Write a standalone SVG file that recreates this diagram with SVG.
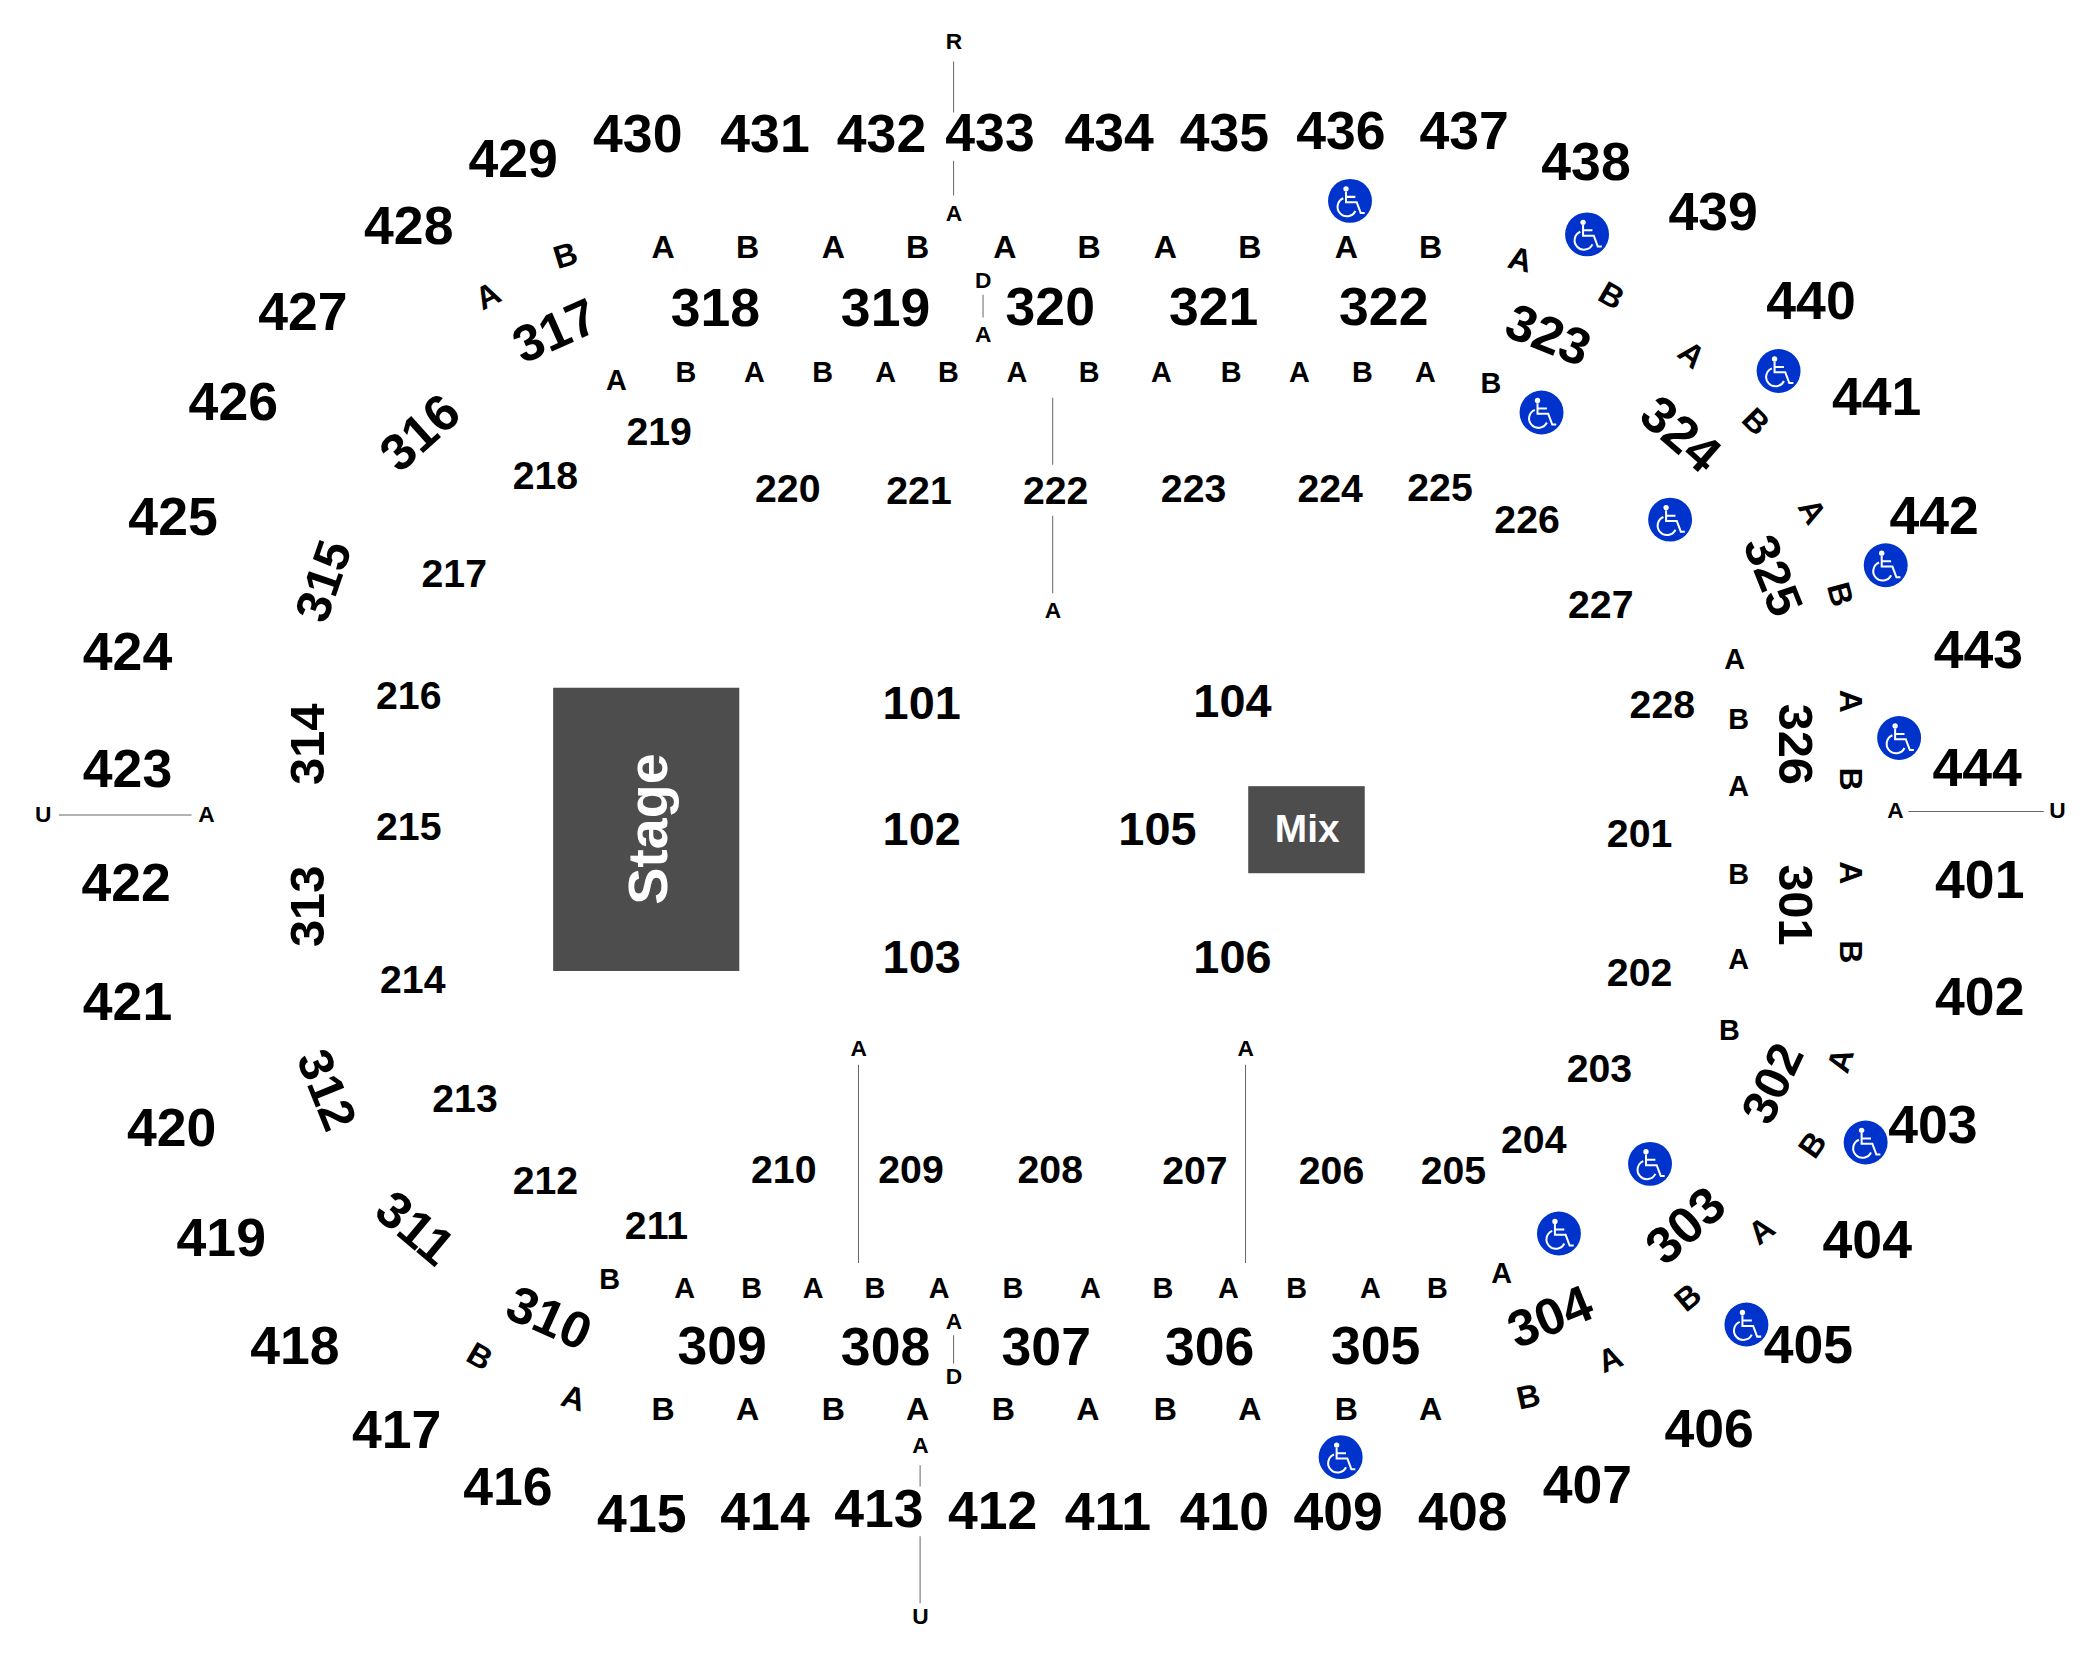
<svg xmlns="http://www.w3.org/2000/svg" xmlns:xlink="http://www.w3.org/1999/xlink" width="2100" height="1660" viewBox="0 0 2100 1660">
<style>
text{font-family:"Liberation Sans",Arial,sans-serif;font-weight:700;text-anchor:middle;dominant-baseline:central;fill:#000}
.u{font-size:40px}.n{font-size:36.5px}.o{font-size:38.5px}.m{font-size:29.3px}.f{font-size:35px}.r{font-size:24px}.q{font-size:21.5px}.t{font-size:17px}
.w{fill:#fff}
line{stroke:#666;stroke-width:.75}
</style>
<defs><g id="wc"><circle r="16.4" fill="#0033cc"/><circle cx="-3" cy="-9" r="2" fill="#fff"/><path d="M-3-7V1H5L8 9H11M-3-3H4M-5-2A7 7 0 1 0 4 7.500" fill="none" stroke="#fff" stroke-width="1.500"/></g></defs>
<rect width="2100" height="1660" fill="#fff"/>
<g transform="scale(1.3393)">
<rect x="413" y="513.500" width="139" height="211.500" fill="#4d4d4d"/>
<rect x="932" y="587" width="87" height="65" fill="#4d4d4d"/>
<text class="w" style="font-size:41.500px" x="484" y="619" transform="rotate(-90 484 619)">Stage</text>
<text class="w" style="font-size:29px" x="976" y="618.500">Mix</text>
<g id="connectors">
<line x1="712" y1="46" x2="712" y2="84"/><line x1="712" y1="120" x2="712" y2="146"/>
<line x1="734" y1="220" x2="734" y2="237"/>
<line x1="786" y1="297" x2="786" y2="347"/><line x1="786" y1="385" x2="786" y2="443"/>
<line x1="641" y1="795" x2="641" y2="943"/><line x1="930" y1="795" x2="930" y2="943"/>
<line x1="712" y1="997" x2="712" y2="1018"/>
<line x1="687" y1="1094" x2="687" y2="1110"/><line x1="687" y1="1147" x2="687" y2="1197"/>
<line x1="44" y1="608.500" x2="143" y2="608.500"/><line x1="1425" y1="606" x2="1526" y2="606"/>
</g>
<g transform="translate(.2 -.3)">
<g id="level-400">
<text class="u" x="476" y="100">430</text><text class="u" x="571" y="100">431</text><text class="u" x="658" y="100">432</text><text class="u" x="739" y="99">433</text><text class="u" x="828" y="99">434</text><text class="u" x="914" y="99">435</text><text class="u" x="1001" y="98">436</text><text class="u" x="1093" y="98">437</text><text class="u" x="1184" y="121">438</text><text class="u" x="1279" y="158">439</text><text class="u" x="1352" y="225">440</text><text class="u" x="1401" y="296">441</text><text class="u" x="1444" y="385">442</text><text class="u" x="1477" y="485">443</text><text class="u" x="1476" y="573">444</text><text class="u" x="1478" y="657">401</text><text class="u" x="1478" y="744">402</text><text class="u" x="1443" y="840">403</text><text class="u" x="1394" y="926">404</text><text class="u" x="1350" y="1004">405</text><text class="u" x="1276" y="1067">406</text><text class="u" x="1185" y="1109">407</text><text class="u" x="1092" y="1129">408</text><text class="u" x="999" y="1129">409</text><text class="u" x="914" y="1129">410</text><text class="u" x="827" y="1129">411</text><text class="u" x="741" y="1128">412</text><text class="u" x="656" y="1127">413</text><text class="u" x="571" y="1129">414</text><text class="u" x="479" y="1130">415</text><text class="u" x="379" y="1110">416</text><text class="u" x="296" y="1068">417</text><text class="u" x="220" y="1005">418</text><text class="u" x="165" y="924">419</text><text class="u" x="128" y="842">420</text><text class="u" x="95" y="748">421</text><text class="u" x="94" y="659">422</text><text class="u" x="95" y="574">423</text><text class="u" x="95" y="487">424</text><text class="u" x="129" y="386">425</text><text class="u" x="174" y="300">426</text><text class="u" x="226" y="233">427</text><text class="u" x="305" y="169">428</text><text class="u" x="383" y="119">429</text>
</g>
<g id="level-300">
<text class="o" x="414" y="247" transform="rotate(-24 414 247)">317</text><text class="u" x="534" y="230">318</text><text class="u" x="661" y="230">319</text><text class="u" x="784" y="229">320</text><text class="u" x="906" y="229">321</text><text class="u" x="1033" y="229">322</text><text class="o" x="1156" y="250" transform="rotate(22 1156 250)">323</text><text class="o" x="1255" y="324" transform="rotate(41 1255 324)">324</text><text class="n" x="1324" y="430" transform="rotate(68 1324 430)">325</text><text class="n" x="1341" y="556" transform="rotate(90 1341 556)">326</text><text class="n" x="1341" y="676" transform="rotate(90 1341 676)">301</text><text class="n" x="1323" y="809" transform="rotate(-65 1323 809)">302</text><text class="o" x="1258" y="915" transform="rotate(-42 1258 915)">303</text><text class="o" x="1157" y="983" transform="rotate(-22 1157 983)">304</text><text class="u" x="1027" y="1005">305</text><text class="u" x="903" y="1006">306</text><text class="u" x="781" y="1006">307</text><text class="u" x="661" y="1006">308</text><text class="u" x="539" y="1005">309</text><text class="o" x="410" y="984" transform="rotate(24 410 984)">310</text><text class="o" x="310" y="917" transform="rotate(40 310 917)">311</text><text class="n" x="244" y="814" transform="rotate(68 244 814)">312</text><text class="n" x="229" y="677" transform="rotate(-90 229 677)">313</text><text class="n" x="229" y="556" transform="rotate(-90 229 556)">314</text><text class="n" x="241" y="434" transform="rotate(-71 241 434)">315</text><text class="o" x="313" y="323" transform="rotate(-42 313 323)">316</text>
</g>
<g id="level-200">
<text class="m" x="1224" y="622">201</text><text class="m" x="1224" y="726">202</text><text class="m" x="1194" y="798">203</text><text class="m" x="1145" y="851">204</text><text class="m" x="1085" y="874">205</text><text class="m" x="994" y="874">206</text><text class="m" x="892" y="874">207</text><text class="m" x="784" y="873">208</text><text class="m" x="680" y="873">209</text><text class="m" x="585" y="873">210</text><text class="m" x="490" y="915">211</text><text class="m" x="407" y="881">212</text><text class="m" x="347" y="820">213</text><text class="m" x="308" y="731">214</text><text class="m" x="305" y="617">215</text><text class="m" x="305" y="519">216</text><text class="m" x="339" y="428">217</text><text class="m" x="407" y="355">218</text><text class="m" x="492" y="322">219</text><text class="m" x="588" y="365">220</text><text class="m" x="686" y="366">221</text><text class="m" x="788" y="366">222</text><text class="m" x="891" y="365">223</text><text class="m" x="993" y="365">224</text><text class="m" x="1075" y="364">225</text><text class="m" x="1140" y="388">226</text><text class="m" x="1195" y="451">227</text><text class="m" x="1241" y="526">228</text>
</g>
<g id="level-100">
<text class="f" x="688" y="525">101</text><text class="f" x="688" y="619">102</text><text class="f" x="688" y="715">103</text><text class="f" x="920" y="524">104</text><text class="f" x="864" y="619">105</text><text class="f" x="920" y="715">106</text>
</g>
<g id="rows">
<text class="r" x="364" y="221" transform="rotate(-27 364 221)">A</text><text class="r" x="422" y="191" transform="rotate(-17 422 191)">B</text><text class="r" x="495" y="185">A</text><text class="r" x="558" y="185">B</text><text class="r" x="622" y="185">A</text><text class="r" x="685" y="185">B</text><text class="r" x="750" y="185">A</text><text class="r" x="813" y="185">B</text><text class="r" x="870" y="185">A</text><text class="r" x="933" y="185">B</text><text class="r" x="1005" y="185">A</text><text class="r" x="1068" y="185">B</text><text class="r" x="1135" y="194" transform="rotate(15 1135 194)">A</text><text class="r" x="1203" y="221" transform="rotate(30 1203 221)">B</text><text class="r" x="1263" y="265" transform="rotate(40 1263 265)">A</text><text class="r" x="1311" y="315" transform="rotate(45 1311 315)">B</text><text class="r" x="1353" y="382" transform="rotate(60 1353 382)">A</text><text class="r" x="1374" y="444" transform="rotate(75 1374 444)">B</text><text class="r" x="1382" y="524" transform="rotate(90 1382 524)">A</text><text class="r" x="1382" y="582" transform="rotate(90 1382 582)">B</text><text class="r" x="1382" y="652" transform="rotate(90 1382 652)">A</text><text class="r" x="1382" y="711" transform="rotate(90 1382 711)">B</text><text class="r" x="1374" y="792" transform="rotate(-73 1374 792)">A</text><text class="r" x="1353" y="855" transform="rotate(-55 1353 855)">B</text><text class="r" x="1315" y="919" transform="rotate(-37 1315 919)">A</text><text class="r" x="1260" y="969" transform="rotate(-40 1260 969)">B</text><text class="r" x="1202" y="1015" transform="rotate(-22 1202 1015)">A</text><text class="r" x="1141" y="1043" transform="rotate(-12 1141 1043)">B</text><text class="r" x="1068" y="1052">A</text><text class="r" x="1005" y="1052">B</text><text class="r" x="933" y="1052">A</text><text class="r" x="870" y="1052">B</text><text class="r" x="812" y="1052">A</text><text class="r" x="749" y="1052">B</text><text class="r" x="685" y="1052">A</text><text class="r" x="622" y="1052">B</text><text class="r" x="558" y="1052">A</text><text class="r" x="495" y="1052">B</text><text class="r" x="428" y="1044" transform="rotate(17 428 1044)">A</text><text class="r" x="358" y="1013" transform="rotate(30 358 1013)">B</text>
<text class="q" x="460" y="284">A</text><text class="q" x="512" y="278">B</text><text class="q" x="563" y="278">A</text><text class="q" x="614" y="278">B</text><text class="q" x="661" y="278">A</text><text class="q" x="708" y="278">B</text><text class="q" x="759" y="278">A</text><text class="q" x="813" y="278">B</text><text class="q" x="867" y="278">A</text><text class="q" x="919" y="278">B</text><text class="q" x="970" y="278">A</text><text class="q" x="1017" y="278">B</text><text class="q" x="1064" y="278">A</text><text class="q" x="1113" y="286">B</text>
<text class="q" x="1295" y="492">A</text><text class="q" x="1298" y="537">B</text><text class="q" x="1298" y="587">A</text><text class="q" x="1298" y="653">B</text><text class="q" x="1298" y="716">A</text><text class="q" x="1291" y="769">B</text>
<text class="q" x="455" y="955">B</text><text class="q" x="511" y="962">A</text><text class="q" x="561" y="962">B</text><text class="q" x="607" y="962">A</text><text class="q" x="653" y="962">B</text><text class="q" x="701" y="962">A</text><text class="q" x="756" y="962">B</text><text class="q" x="814" y="962">A</text><text class="q" x="868" y="962">B</text><text class="q" x="917" y="962">A</text><text class="q" x="968" y="962">B</text><text class="q" x="1023" y="962">A</text><text class="q" x="1073" y="962">B</text><text class="q" x="1121" y="951">A</text>
<text class="t" x="712" y="31">R</text><text class="t" x="712" y="159">A</text><text class="t" x="734" y="209">D</text><text class="t" x="734" y="250">A</text><text class="t" x="786" y="456">A</text><text class="t" x="641" y="783">A</text><text class="t" x="930" y="783">A</text><text class="t" x="712" y="987">A</text><text class="t" x="712" y="1028">D</text><text class="t" x="687" y="1079">A</text><text class="t" x="687" y="1207">U</text><text class="t" x="32" y="608">U</text><text class="t" x="154" y="608">A</text><text class="t" x="1415" y="605">A</text><text class="t" x="1536" y="605">U</text>
</g>
</g>
<g id="accessible">
<use href="#wc" x="1008" y="150"/><use href="#wc" x="1185" y="175"/><use href="#wc" x="1151" y="308"/><use href="#wc" x="1328" y="277"/><use href="#wc" x="1247" y="388"/><use href="#wc" x="1408" y="422"/><use href="#wc" x="1418" y="551"/><use href="#wc" x="1232" y="869"/><use href="#wc" x="1393" y="853"/><use href="#wc" x="1164" y="921"/><use href="#wc" x="1304" y="989"/><use href="#wc" x="1001" y="1088"/>
</g>
</g>
</svg>
